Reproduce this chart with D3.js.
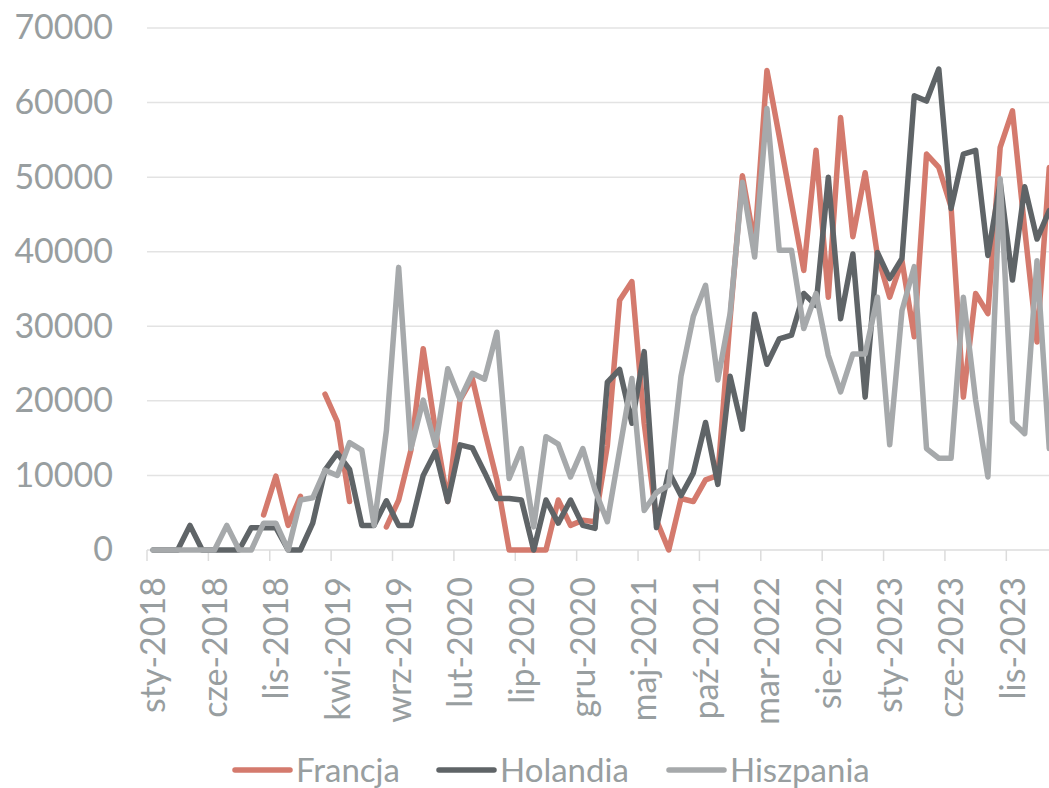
<!DOCTYPE html>
<html>
<head>
<meta charset="utf-8">
<script src="https://cdn.jsdelivr.net/npm/d3@7"></script>
<style>
  html, body { margin: 0; padding: 0; background: #ffffff; overflow: hidden; }
  svg { display: block; }
  text { font-family: "Lato", "Liberation Sans", sans-serif; fill: #989ea0; }
</style>
</head>
<body>
<svg id="chart" width="1049" height="788"></svg>
<script>
// Monthly categories, January 2018 onward (74 months)
const monthNames = ["sty", "lut", "mar", "kwi", "maj", "cze", "lip", "sie", "wrz", "paź", "lis", "gru"];
const categories = [];
for (let i = 0; i < 74; i++) {
  categories.push(monthNames[i % 12] + "-" + (2018 + Math.floor(i / 12)));
}

// Labelled months on the category axis (every fifth month)
const tickLabels = ["sty-2018", "cze-2018", "lis-2018", "kwi-2019", "wrz-2019", "lut-2020", "lip-2020",
  "gru-2020", "maj-2021", "paź-2021", "mar-2022", "sie-2022", "sty-2023", "cze-2023", "lis-2023"];

const yTicks = [0, 10000, 20000, 30000, 40000, 50000, 60000, 70000];

const seriesNames = ["Francja", "Holandia", "Hiszpania"];
const seriesColors = ["#d47a6d", "#5f6467", "#a6a9ab"];

// Francja (null = no data for that month)
const francja = [
  null, null, null, null, null, null, null, null, null, 4700,
  9900, 3300, 7200, null, 20900, 17200, 6500, null, null, 3100,
  6700, 13400, 27000, 16000, 6500, 20100, 23000, 16000, 9400, 0,
  0, 0, 0, 6700, 3300, 4000, 3800, 14000, 33500, 36000,
  17000, 4000, 0, 6900, 6500, 9400, 10000, 31000, 50200, 41000,
  64300, 55500, 46500, 37500, 53600, 33900, 58000, 42000, 50600, 39500,
  33900, 38800, 28600, 53100, 51300, 46000, 20500, 34400, 31700, 54000,
  58900, 43000, 27900, 51300
];

// Holandia
const holandia = [
  0, 0, 0, 3300, 0, 0, 0, 0, 3000, 3000,
  3000, 0, 0, 3600, 10700, 13000, 10800, 3300, 3300, 6600,
  3300, 3300, 10000, 13200, 6500, 14100, 13700, 10400, 6900, 6900,
  6700, 0, 6700, 3600, 6700, 3300, 2900, 22500, 24200, 17000,
  26600, 3000, 10500, 7300, 10300, 17100, 8800, 23300, 16200, 31600,
  24900, 28300, 28800, 34400, 32800, 50000, 31000, 39700, 20500, 39900,
  36400, 39100, 60900, 60200, 64500, 45800, 53100, 53600, 39500, 49300,
  36200, 48700, 41700, 45500
];

// Hiszpania
const hiszpania = [
  0, 0, 0, 0, 0, 0, 3300, 0, 0, 3600,
  3600, 0, 6700, 7000, 10700, 10000, 14400, 13400, 3300, 16000,
  37900, 13600, 20100, 14000, 24300, 20200, 23700, 22900, 29200, 9600,
  13600, 3100, 15200, 14200, 9800, 13600, 8000, 3800, 13400, 23000,
  5300, 7700, 8700, 23300, 31300, 35500, 22800, 31700, 49300, 39300,
  59200, 40200, 40200, 29700, 34400, 26100, 21200, 26300, 26300, 33900,
  14100, 32100, 38000, 13600, 12300, 12300, 33900, 20100, 9800, 49800,
  17200, 15600, 38800, 13600
];

const seriesValues = [francja, holandia, hiszpania];

const svg = d3.select("#chart");

// Plot area: runs on past the right edge of the page
const plotLeft = 147, plotTop = 28, plotBottom = 550;
const monthWidth = 12.276;
const plotRight = plotLeft + categories.length * monthWidth;

const x = d3.scaleBand().domain(categories).range([plotLeft, plotRight]).padding(0);
const y = d3.scaleLinear().domain([0, 70000]).range([plotBottom, plotTop]);
const cx = c => x(c) + x.bandwidth() / 2;

// Horizontal gridlines
svg.append("g")
  .selectAll("line")
  .data(yTicks.filter(d => d > 0))
  .join("line")
  .attr("x1", plotLeft).attr("x2", plotRight)
  .attr("y1", d => y(d)).attr("y2", d => y(d))
  .attr("stroke", "#e3e3e3").attr("stroke-width", 1.5);

// Value axis labels
const yAxis = svg.append("g")
  .attr("transform", `translate(${plotLeft},0)`)
  .call(d3.axisLeft(y).tickValues(yTicks).tickSize(0).tickPadding(34).tickFormat(d3.format("d")));
yAxis.select(".domain").remove();
yAxis.selectAll("text")
  .style("font-family", "Lato, 'Liberation Sans', sans-serif")
  .style("font-size", "34px")
  .attr("fill", "#989ea0");

// Category axis line and tick marks (tick marks sit between categories)
svg.append("line")
  .attr("x1", plotLeft).attr("x2", plotRight)
  .attr("y1", y(0)).attr("y2", y(0))
  .attr("stroke", "#dcdcdc").attr("stroke-width", 1.5);

svg.append("g")
  .selectAll("line")
  .data(categories.filter((c, i) => i % 5 === 0))
  .join("line")
  .attr("x1", d => x(d)).attr("x2", d => x(d))
  .attr("y1", y(0)).attr("y2", y(0) + 11)
  .attr("stroke", "#dcdcdc").attr("stroke-width", 1.5);

// Category labels, rotated
svg.append("g")
  .selectAll("text")
  .data(tickLabels)
  .join("text")
  .attr("transform", d => `translate(${cx(d)},${y(0) + 27}) rotate(-90)`)
  .attr("text-anchor", "end")
  .attr("dy", "0.36em")
  .style("font-size", "34px")
  .text(d => d);

// Series lines
const line = d3.line()
  .defined(d => d.v !== null)
  .x(d => cx(d.c))
  .y(d => y(d.v));

seriesValues.forEach((vals, s) => {
  const pts = categories.map((c, i) => ({ c, v: vals[i] }));
  svg.append("path")
    .datum(pts)
    .attr("d", line)
    .attr("fill", "none")
    .attr("stroke", seriesColors[s])
    .attr("stroke-width", 5.5)
    .attr("stroke-linejoin", "round")
    .attr("stroke-linecap", "round");
});

// Legend
const legendX = [235, 439, 669];
const legend = svg.append("g");
seriesNames.forEach((name, s) => {
  legend.append("line")
    .attr("x1", legendX[s]).attr("x2", legendX[s] + 55)
    .attr("y1", 770).attr("y2", 770)
    .attr("stroke", seriesColors[s])
    .attr("stroke-width", 5.5)
    .attr("stroke-linecap", "round");
  legend.append("text")
    .attr("x", legendX[s] + 61)
    .attr("y", 782)
    .style("font-size", "33px")
    .text(name);
});
</script>
</body>
</html>
